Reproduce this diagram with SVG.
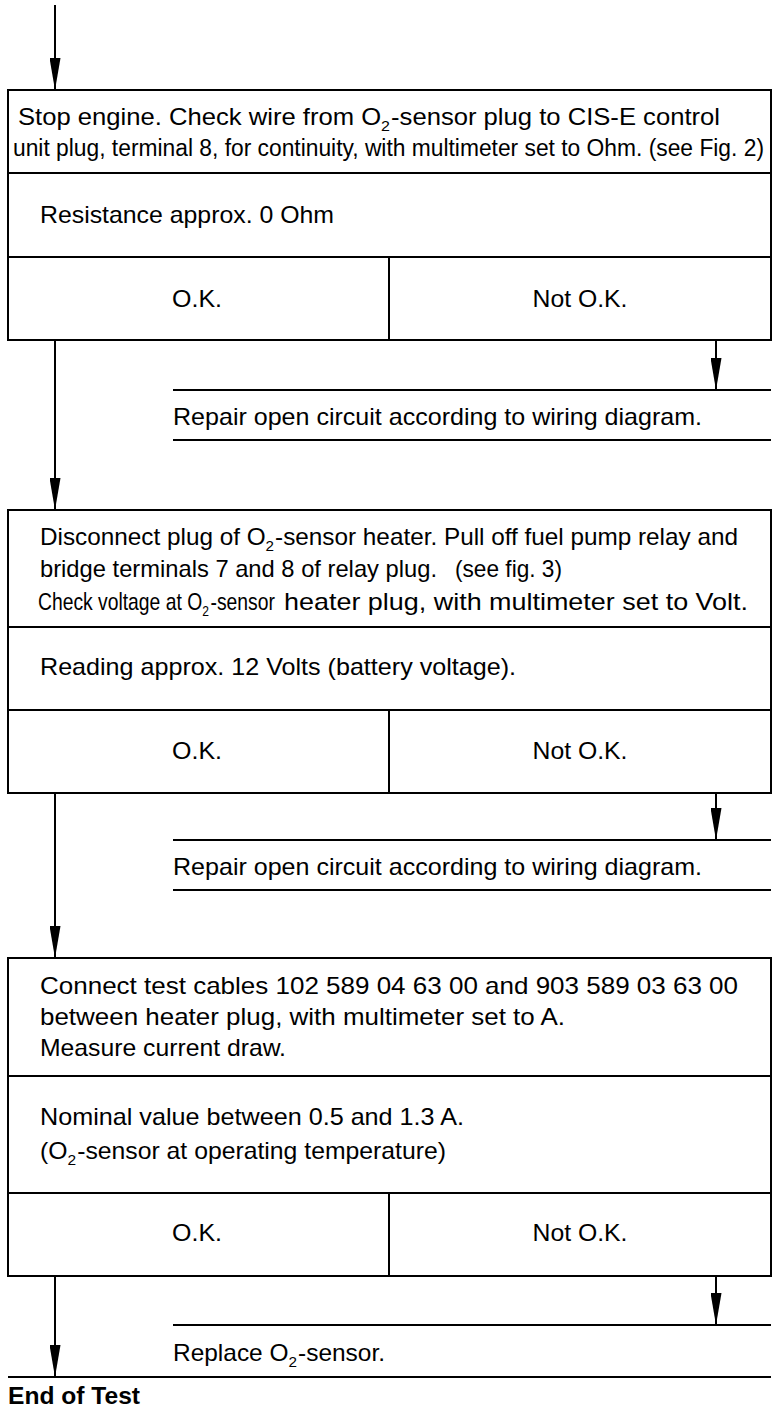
<svg xmlns="http://www.w3.org/2000/svg" width="784" height="1418" viewBox="0 0 784 1418">
<style>
.box{fill:#fff;stroke:#000;stroke-width:2}
.ln{stroke:#000;stroke-width:2;fill:none}
.t{font-family:"Liberation Sans",Arial,sans-serif;font-size:24px;fill:#000}
.c{text-anchor:middle}
.b{font-weight:bold}
.sub{font-size:15px}
</style>
<defs>
<marker id="ah" viewBox="0 0 32 11" refX="32" refY="5.5" markerWidth="32" markerHeight="11" markerUnits="userSpaceOnUse" orient="auto">
<path d="M0,0 L32,5.5 L0,11 z" fill="#000"/>
</marker>
</defs>
<rect width="784" height="1418" fill="#fff"/>

<g id="connectors">
<line class="ln" x1="55" y1="5" x2="55" y2="90" marker-end="url(#ah)"/>
<line class="ln" x1="55" y1="340" x2="55" y2="510" marker-end="url(#ah)"/>
<line class="ln" x1="716" y1="340" x2="716" y2="390" marker-end="url(#ah)"/>
<line class="ln" x1="55" y1="793" x2="55" y2="958" marker-end="url(#ah)"/>
<line class="ln" x1="716" y1="793" x2="716" y2="840" marker-end="url(#ah)"/>
<line class="ln" x1="55" y1="1276" x2="55" y2="1377" marker-end="url(#ah)"/>
<line class="ln" x1="716" y1="1276" x2="716" y2="1325" marker-end="url(#ah)"/>
</g>

<g id="step1">
<rect class="box" x="8" y="90" width="763" height="250"/>
<line class="ln" x1="8" y1="173" x2="771" y2="173"/>
<line class="ln" x1="8" y1="257" x2="771" y2="257"/>
<line class="ln" x1="389" y1="257" x2="389" y2="340"/>
<text class="t" x="18" y="125" textLength="702" lengthAdjust="spacingAndGlyphs">Stop engine. Check wire from O<tspan class="sub" dy="6">2</tspan><tspan dy="-6" dx="1">-sensor plug to CIS-E control</tspan></text>
<text class="t" x="13" y="156" style="font-size:23px" textLength="751" lengthAdjust="spacingAndGlyphs">unit plug, terminal 8, for continuity, with multimeter set to Ohm. (see Fig. 2)</text>
<text class="t" x="40" y="223" textLength="294" lengthAdjust="spacingAndGlyphs">Resistance approx. 0 Ohm</text>
<text class="t c" x="197" y="307" textLength="50" lengthAdjust="spacingAndGlyphs">O.K.</text>
<text class="t c" x="580" y="307" textLength="95" lengthAdjust="spacingAndGlyphs">Not O.K.</text>
</g>

<g id="repair1">
<line class="ln" x1="173" y1="390" x2="771" y2="390"/>
<line class="ln" x1="173" y1="440" x2="771" y2="440"/>
<text class="t" x="173" y="425" textLength="529" lengthAdjust="spacingAndGlyphs">Repair open circuit according to wiring diagram.</text>
</g>

<g id="step2">
<rect class="box" x="8" y="510" width="763" height="283"/>
<line class="ln" x1="8" y1="627" x2="771" y2="627"/>
<line class="ln" x1="8" y1="710" x2="771" y2="710"/>
<line class="ln" x1="389" y1="710" x2="389" y2="793"/>
<text class="t" x="40" y="545" textLength="698" lengthAdjust="spacingAndGlyphs">Disconnect plug of O<tspan class="sub" dy="6">2</tspan><tspan dy="-6" dx="1">-sensor heater. Pull off fuel pump relay and</tspan></text>
<text class="t" x="40" y="577" textLength="397" lengthAdjust="spacingAndGlyphs">bridge terminals 7 and 8 of relay plug.</text>
<text class="t" x="455" y="577" textLength="107" lengthAdjust="spacingAndGlyphs">(see fig. 3)</text>
<text class="t" transform="translate(38,610) scale(0.805,1)" x="0" y="0">Check voltage at O<tspan class="sub" dy="6">2</tspan><tspan dy="-6" dx="2">-sensor</tspan></text>
<text class="t" x="284" y="610" textLength="464" lengthAdjust="spacingAndGlyphs">heater plug, with multimeter set to Volt.</text>
<text class="t" x="40" y="675" textLength="476" lengthAdjust="spacingAndGlyphs">Reading approx. 12 Volts (battery voltage).</text>
<text class="t c" x="197" y="759" textLength="50" lengthAdjust="spacingAndGlyphs">O.K.</text>
<text class="t c" x="580" y="759" textLength="95" lengthAdjust="spacingAndGlyphs">Not O.K.</text>
</g>

<g id="repair2">
<line class="ln" x1="173" y1="840" x2="771" y2="840"/>
<line class="ln" x1="173" y1="890" x2="771" y2="890"/>
<text class="t" x="173" y="875" textLength="529" lengthAdjust="spacingAndGlyphs">Repair open circuit according to wiring diagram.</text>
</g>

<g id="step3">
<rect class="box" x="8" y="958" width="763" height="318"/>
<line class="ln" x1="8" y1="1076" x2="771" y2="1076"/>
<line class="ln" x1="8" y1="1193" x2="771" y2="1193"/>
<line class="ln" x1="389" y1="1193" x2="389" y2="1276"/>
<text class="t" x="40" y="994" textLength="698" lengthAdjust="spacingAndGlyphs">Connect test cables 102 589 04 63 00 and 903 589 03 63 00</text>
<text class="t" x="40" y="1025" textLength="525" lengthAdjust="spacingAndGlyphs">between heater plug, with multimeter set to A.</text>
<text class="t" x="40" y="1056" textLength="246" lengthAdjust="spacingAndGlyphs">Measure current draw.</text>
<text class="t" x="40" y="1125" textLength="424" lengthAdjust="spacingAndGlyphs">Nominal value between 0.5 and 1.3 A.</text>
<text class="t" x="40" y="1159" textLength="406" lengthAdjust="spacingAndGlyphs">(O<tspan class="sub" dy="6">2</tspan><tspan dy="-6" dx="1">-sensor at operating temperature)</tspan></text>
<text class="t c" x="197" y="1241" textLength="50" lengthAdjust="spacingAndGlyphs">O.K.</text>
<text class="t c" x="580" y="1241" textLength="95" lengthAdjust="spacingAndGlyphs">Not O.K.</text>
</g>

<g id="replace">
<line class="ln" x1="173" y1="1325" x2="771" y2="1325"/>
<text class="t" x="173" y="1361" textLength="212" lengthAdjust="spacingAndGlyphs">Replace O<tspan class="sub" dy="6">2</tspan><tspan dy="-6" dx="1">-sensor.</tspan></text>
</g>

<g id="end">
<line class="ln" x1="8" y1="1377" x2="771" y2="1377"/>
<text class="t b" x="8" y="1404" textLength="132" lengthAdjust="spacingAndGlyphs">End of Test</text>
</g>
</svg>
